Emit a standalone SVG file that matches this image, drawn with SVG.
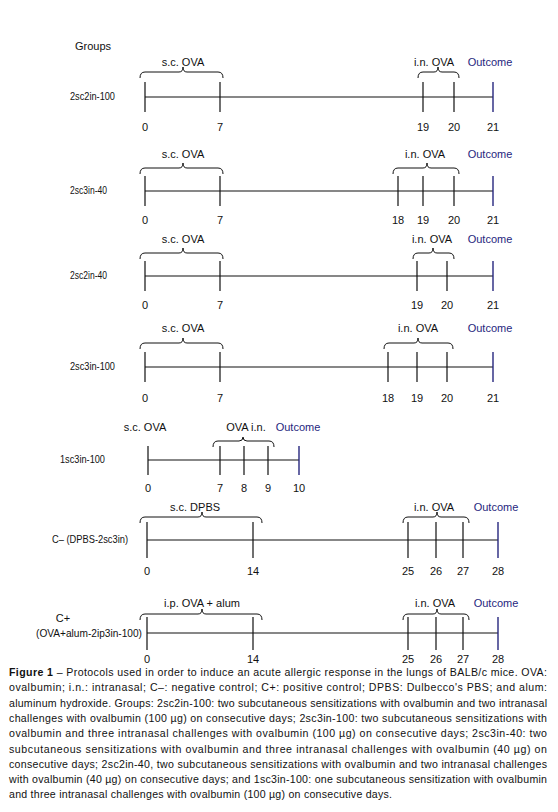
<svg xmlns="http://www.w3.org/2000/svg" width="558" height="812" viewBox="0 0 558 812">
<style>
text{font-family:"Liberation Sans",Arial,sans-serif;font-size:11px;fill:#111}
.c{text-anchor:middle}
.o{fill:#26267e;text-anchor:middle}
.ln{stroke:#111;stroke-width:1.2;fill:none}
.ob{stroke:#26267e;stroke-width:1.4;fill:none}
.br{stroke:#111;stroke-width:1;fill:none}
.cap{font-size:10.6px}
</style>
<rect width="558" height="812" fill="#fff"/>
<text x="75" y="50">Groups</text>

<g id="row1">
<text x="70" y="100" textLength="45" lengthAdjust="spacingAndGlyphs">2sc2in-100</text>
<text class="c" x="183" y="66">s.c. OVA</text>
<text class="c" x="434" y="66">i.n. OVA</text>
<text class="o" x="490" y="66">Outcome</text>
<path class="br" d="M140 78 Q140 72 145 72 L179 72 Q183 72 183 67 Q183 72 187 72 L218 72 Q223 72 223 78"/>
<path class="br" d="M418 78 Q418 72 423 72 L434 72 Q438 72 438 67 Q438 72 442 72 L454 72 Q459 72 459 78"/>
<path class="ln" d="M145 97 H493 M145 82 V112 M220 82 V112 M423 82 V112 M454 82 V112"/>
<path class="ob" d="M493 82 V112"/>
<text class="c" x="145" y="131">0</text><text class="c" x="220" y="131">7</text><text class="c" x="423" y="131">19</text><text class="c" x="454" y="131">20</text><text class="c" x="493" y="131">21</text>
</g>

<g id="row2">
<text x="70" y="194" textLength="37" lengthAdjust="spacingAndGlyphs">2sc3in-40</text>
<text class="c" x="183" y="158">s.c. OVA</text>
<text class="c" x="425" y="158">i.n. OVA</text>
<text class="o" x="490" y="158">Outcome</text>
<path class="br" d="M140 174 Q140 168 145 168 L179 168 Q183 168 183 163 Q183 168 187 168 L218 168 Q223 168 223 174"/>
<path class="br" d="M393 174 Q393 168 398 168 L423 168 Q427 168 427 163 Q427 168 431 168 L454 168 Q459 168 459 174"/>
<path class="ln" d="M145 191 H493 M145 176 V206 M220 176 V206 M398 176 V206 M423 176 V206 M454 176 V206"/>
<path class="ob" d="M493 176 V206"/>
<text class="c" x="145" y="224">0</text><text class="c" x="220" y="224">7</text><text class="c" x="398" y="224">18</text><text class="c" x="423" y="224">19</text><text class="c" x="454" y="224">20</text><text class="c" x="493" y="224">21</text>
</g>

<g id="row3">
<text x="70" y="279" textLength="37" lengthAdjust="spacingAndGlyphs">2sc2in-40</text>
<text class="c" x="183" y="243">s.c. OVA</text>
<text class="c" x="432" y="243">i.n. OVA</text>
<text class="o" x="490" y="243">Outcome</text>
<path class="br" d="M140 259 Q140 253 145 253 L179 253 Q183 253 183 248 Q183 253 187 253 L218 253 Q223 253 223 259"/>
<path class="br" d="M413 259 Q413 253 418 253 L429 253 Q433 253 433 248 Q433 253 437 253 L449 253 Q454 253 454 259"/>
<path class="ln" d="M145 276 H493 M145 261 V291 M220 261 V291 M417 261 V291 M447 261 V291"/>
<path class="ob" d="M493 261 V291"/>
<text class="c" x="145" y="309">0</text><text class="c" x="220" y="309">7</text><text class="c" x="417" y="309">19</text><text class="c" x="447" y="309">20</text><text class="c" x="493" y="309">21</text>
</g>

<g id="row4">
<text x="70" y="370" textLength="45" lengthAdjust="spacingAndGlyphs">2sc3in-100</text>
<text class="c" x="183" y="332">s.c. OVA</text>
<text class="c" x="418" y="332">i.n. OVA</text>
<text class="o" x="490" y="332">Outcome</text>
<path class="br" d="M140 349 Q140 343 145 343 L179 343 Q183 343 183 338 Q183 343 187 343 L218 343 Q223 343 223 349"/>
<path class="br" d="M384 349 Q384 343 389 343 L414 343 Q418 343 418 338 Q418 343 422 343 L448 343 Q453 343 453 349"/>
<path class="ln" d="M145 367 H493 M145 352 V382 M220 352 V382 M388 352 V382 M417 352 V382 M447 352 V382"/>
<path class="ob" d="M493 352 V382"/>
<text class="c" x="145" y="402">0</text><text class="c" x="220" y="402">7</text><text class="c" x="388" y="402">18</text><text class="c" x="417" y="402">19</text><text class="c" x="447" y="402">20</text><text class="c" x="493" y="402">21</text>
</g>

<g id="row5">
<text x="60" y="463" textLength="45" lengthAdjust="spacingAndGlyphs">1sc3in-100</text>
<text class="c" x="145" y="431">s.c. OVA</text>
<text class="c" x="246" y="431">OVA i.n.</text>
<text class="o" x="298" y="431">Outcome</text>
<path class="br" d="M213 447 Q213 441 218 441 L239 441 Q243 441 243 437 Q243 441 247 441 L269 441 Q274 441 274 447"/>
<path class="ln" d="M148 460 H299 M148 446 V475 M220 446 V475 M244 446 V475 M268 446 V475"/>
<path class="ob" d="M299 446 V475"/>
<text class="c" x="148" y="492">0</text><text class="c" x="220" y="492">7</text><text class="c" x="244" y="492">8</text><text class="c" x="268" y="492">9</text><text class="c" x="299" y="492">10</text>
</g>

<g id="row6">
<text x="52" y="543" textLength="76" lengthAdjust="spacingAndGlyphs">C– (DPBS-2sc3in)</text>
<text class="c" x="195" y="511">s.c. DPBS</text>
<text class="c" x="434" y="511">i.n. OVA</text>
<text class="o" x="496" y="511">Outcome</text>
<path class="br" d="M140 523 Q140 517 145 517 L198 517 Q202 517 202 512 Q202 517 206 517 L257 517 Q262 517 262 523"/>
<path class="br" d="M403 523 Q403 517 408 517 L433 517 Q437 517 437 512 Q437 517 441 517 L464 517 Q469 517 469 523"/>
<path class="ln" d="M147 540 H498 M147 522 V558 M253 522 V558 M408 522 V558 M436 522 V558 M463 522 V558"/>
<path class="ob" d="M498 522 V558"/>
<text class="c" x="147" y="575">0</text><text class="c" x="253" y="575">14</text><text class="c" x="408" y="575">25</text><text class="c" x="436" y="575">26</text><text class="c" x="463" y="575">27</text><text class="c" x="498" y="575">28</text>
</g>

<g id="row7">
<text class="c" x="63" y="622">C+</text>
<text x="36" y="637" textLength="106" lengthAdjust="spacingAndGlyphs">(OVA+alum-2ip3in-100)</text>
<text class="c" x="202" y="607">i.p. OVA + alum</text>
<text class="c" x="435" y="607">i.n. OVA</text>
<text class="o" x="496" y="607">Outcome</text>
<path class="br" d="M140 620 Q140 614 145 614 L198 614 Q202 614 202 609 Q202 614 206 614 L257 614 Q262 614 262 620"/>
<path class="br" d="M403 620 Q403 614 408 614 L433 614 Q437 614 437 609 Q437 614 441 614 L464 614 Q469 614 469 620"/>
<path class="ln" d="M147 633 H498 M147 617 V650 M253 617 V650 M408 617 V650 M436 617 V650 M463 617 V650"/>
<path class="ob" d="M498 617 V650"/>
<text class="c" x="147" y="663">0</text><text class="c" x="253" y="663">14</text><text class="c" x="408" y="663">25</text><text class="c" x="436" y="663">26</text><text class="c" x="463" y="663">27</text><text class="c" x="498" y="663">28</text>
</g>

<g id="caption">
<text class="cap" x="9" y="676" textLength="538" lengthAdjust="spacing"><tspan font-weight="bold">Figure 1</tspan> – Protocols used in order to induce an acute allergic response in the lungs of BALB/c mice. OVA:</text>
<text class="cap" x="9" y="691.3" textLength="538" lengthAdjust="spacing">ovalbumin; i.n.: intranasal; C–: negative control; C+: positive control; DPBS: Dulbecco's PBS; and alum:</text>
<text class="cap" x="9" y="706.6" textLength="538" lengthAdjust="spacing">aluminum hydroxide. Groups: 2sc2in-100: two subcutaneous sensitizations with ovalbumin and two intranasal</text>
<text class="cap" x="9" y="721.9" textLength="538" lengthAdjust="spacing">challenges with ovalbumin (100 µg) on consecutive days; 2sc3in-100: two subcutaneous sensitizations with</text>
<text class="cap" x="9" y="737.2" textLength="538" lengthAdjust="spacing">ovalbumin and three intranasal challenges with ovalbumin (100 µg) on consecutive days; 2sc3in-40: two</text>
<text class="cap" x="9" y="752.5" textLength="538" lengthAdjust="spacing">subcutaneous sensitizations with ovalbumin and three intranasal challenges with ovalbumin (40 µg) on</text>
<text class="cap" x="9" y="767.8" textLength="538" lengthAdjust="spacing">consecutive days; 2sc2in-40, two subcutaneous sensitizations with ovalbumin and two intranasal challenges</text>
<text class="cap" x="9" y="783.1" textLength="538" lengthAdjust="spacing">with ovalbumin (40 µg) on consecutive days; and 1sc3in-100: one subcutaneous sensitization with ovalbumin</text>
<text class="cap" x="9" y="798.4" textLength="383" lengthAdjust="spacing">and three intranasal challenges with ovalbumin (100 µg) on consecutive days.</text>
</g>
</svg>
